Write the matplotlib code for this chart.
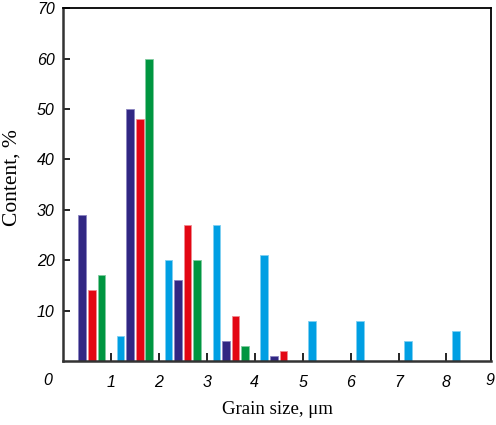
import matplotlib
matplotlib.use("Agg")
import matplotlib.pyplot as plt

# bar positions (grain size, um) and content (%) per series
x_lblue = [1.2, 2.2, 3.2, 4.2, 5.2, 6.2, 7.2, 8.2]
y_lblue = [5, 20, 27, 21, 8, 8, 4, 6]
x_navy = [0.4, 1.4, 2.4, 3.4, 4.4]
y_navy = [29, 50, 16, 4, 1]
x_red = [0.6, 1.6, 2.6, 3.6, 4.6]
y_red = [14, 48, 27, 9, 2]
x_green = [0.8, 1.8, 2.8, 3.8]
y_green = [17, 60, 20, 3]

xtick_pos = [1, 2, 3, 4, 5, 6, 7, 8]
ytick_pos = [10, 20, 30, 40, 50, 60, 70]

fig = plt.figure(figsize=(4.96, 4.25), dpi=100)
ax = fig.add_axes([0.127, 0.1506, 0.863, 0.830])

w = 0.16
ax.bar(x_lblue, y_lblue, width=w, color="#009FE3", edgecolor="#7FD0F2", linewidth=0.6)
ax.bar(x_navy, y_navy, width=w, color="#312783", edgecolor="#8A84C0", linewidth=0.6)
ax.bar(x_red, y_red, width=w, color="#E30613", edgecolor="#F18A90", linewidth=0.6)
ax.bar(x_green, y_green, width=w, color="#009640", edgecolor="#7FCB9F", linewidth=0.6)

ax.set_xlim(0, 8.93)
ax.set_ylim(0, 70)

tick_font = dict(family="Liberation Sans", style="italic", size=11.5)
ax.set_xticks(xtick_pos)
ax.set_xticklabels([str(v) for v in xtick_pos], **tick_font)
ax.set_yticks(ytick_pos)
ax.set_yticklabels([str(v) for v in ytick_pos], **tick_font)
ax.tick_params(axis="x", direction="in", length=6, width=1.2, pad=10)
ax.tick_params(axis="y", direction="in", length=5, width=1.2, pad=6)
ax.text(-0.31, -3.8, "0", ha="center", va="center", **tick_font)
ax.text(8.9, -3.8, "9", ha="center", va="center", clip_on=False, **tick_font)

for side in ["left", "bottom"]:
    ax.spines[side].set_linewidth(1.8)
    ax.spines[side].set_color("#333333")
for side in ["top", "right"]:
    ax.spines[side].set_linewidth(1.3)

ax.set_xlabel("Grain size, μm", labelpad=8, family="Liberation Serif", size=13.5)
ax.set_ylabel("Content, %", family="Liberation Serif", size=15.5)
ax.yaxis.set_label_coords(-0.096, 0.521)

fig.savefig("out.png", dpi=100)
